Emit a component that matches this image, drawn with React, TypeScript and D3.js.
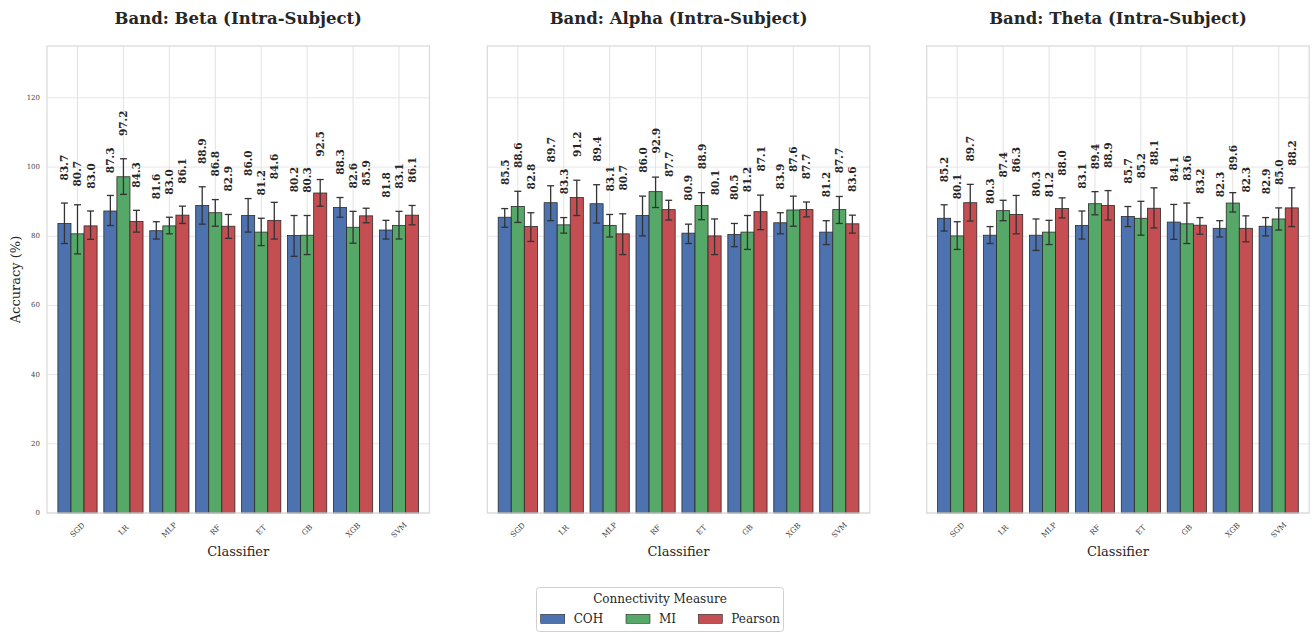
import React from "react";
import * as d3 from "d3";

// classifiers on the x axis, one panel per band
const classifiers = ["SGD", "LR", "MLP", "RF", "ET", "GB", "XGB", "SVM"];
const measures = ["COH", "MI", "Pearson"];
const bands = ["Beta", "Alpha", "Theta"];
const yTicks = [0, 20, 40, 60, 80, 100, 120];

// Beta
const betaCOH = [83.7, 87.3, 81.6, 88.9, 86.0, 80.2, 88.3, 81.8];
const betaMI = [80.7, 97.2, 83.0, 86.8, 81.2, 80.3, 82.6, 83.1];
const betaPearson = [83.0, 84.3, 86.1, 82.9, 84.6, 92.5, 85.9, 86.1];
const betaCOHLo = [77.9, 83.1, 79.2, 83.5, 81.2, 74.2, 85.5, 79.2];
const betaCOHHi = [89.6, 91.8, 84.2, 94.3, 90.9, 86.0, 91.2, 84.6];
const betaMILo = [74.9, 92.1, 80.7, 82.9, 77.3, 74.7, 78.0, 79.2];
const betaMIHi = [89.1, 102.4, 85.5, 90.6, 85.2, 86.0, 87.2, 87.2];
const betaPearsonLo = [79.1, 81.2, 83.7, 79.4, 79.2, 88.7, 83.9, 83.3];
const betaPearsonHi = [87.3, 87.5, 88.7, 86.3, 89.8, 96.4, 88.1, 88.9];

// Alpha
const alphaCOH = [85.5, 89.7, 89.4, 86.0, 80.9, 80.5, 83.9, 81.2];
const alphaMI = [88.6, 83.3, 83.1, 92.9, 88.9, 81.2, 87.6, 87.7];
const alphaPearson = [82.8, 91.2, 80.7, 87.7, 80.1, 87.1, 87.7, 83.6];
const alphaCOHLo = [82.6, 84.5, 83.8, 80.1, 77.9, 77.0, 80.7, 77.6];
const alphaCOHHi = [88.0, 94.6, 94.9, 91.6, 83.5, 83.7, 86.8, 84.5];
const alphaMILo = [84.0, 80.9, 79.8, 88.3, 84.8, 76.2, 82.9, 83.7];
const alphaMIHi = [93.0, 85.4, 86.3, 97.1, 92.6, 86.0, 91.6, 91.5];
const alphaPearsonLo = [78.5, 86.0, 74.7, 84.7, 74.7, 81.9, 85.6, 80.9];
const alphaPearsonHi = [86.8, 96.2, 86.5, 90.4, 85.0, 91.9, 89.9, 86.1];

// Theta
const thetaCOH = [85.2, 80.3, 80.3, 83.1, 85.7, 84.1, 82.3, 82.9];
const thetaMI = [80.1, 87.4, 81.2, 89.4, 85.2, 83.6, 89.6, 85.0];
const thetaPearson = [89.7, 86.3, 88.0, 88.9, 88.1, 83.2, 82.3, 88.2];
const thetaCOHLo = [81.5, 77.9, 75.9, 79.2, 82.8, 79.1, 79.8, 80.1];
const thetaCOHHi = [89.1, 82.8, 85.0, 87.3, 88.6, 89.2, 84.5, 85.4];
const thetaMILo = [76.2, 84.5, 77.6, 86.2, 80.3, 77.9, 87.0, 81.8];
const thetaMIHi = [84.2, 90.4, 84.6, 92.9, 90.1, 89.6, 92.6, 88.2];
const thetaPearsonLo = [84.4, 80.7, 85.3, 84.7, 82.4, 80.6, 78.4, 82.8];
const thetaPearsonHi = [95.0, 91.8, 91.1, 93.2, 94.0, 85.4, 85.9, 94.0];

const bandData = {
  Beta: {
    COH: [betaCOH, betaCOHLo, betaCOHHi],
    MI: [betaMI, betaMILo, betaMIHi],
    Pearson: [betaPearson, betaPearsonLo, betaPearsonHi],
  },
  Alpha: {
    COH: [alphaCOH, alphaCOHLo, alphaCOHHi],
    MI: [alphaMI, alphaMILo, alphaMIHi],
    Pearson: [alphaPearson, alphaPearsonLo, alphaPearsonHi],
  },
  Theta: {
    COH: [thetaCOH, thetaCOHLo, thetaCOHHi],
    MI: [thetaMI, thetaMILo, thetaMIHi],
    Pearson: [thetaPearson, thetaPearsonLo, thetaPearsonHi],
  },
};

const colors = { COH: "#4c72b0", MI: "#55a868", Pearson: "#c44e52" };
const FONT = "'DejaVu Serif', serif";

const panelLefts = [47, 487.3, 926.7];
const panelWidth = 382.5;
const top = 46;
const bottom = 513;

const y = d3.scaleLinear().domain([0, 135]).range([bottom, top]);

const Panel = ({ band, left, showY }) => {
  const x = d3
    .scalePoint()
    .domain(classifiers)
    .range([left, left + panelWidth])
    .padding(0.664);
  const hue = d3.scaleBand().domain(measures).range([-19.6, 19.6]);
  const cx = left + panelWidth / 2;
  const data = bandData[band];

  return (
    <g>
      <text
        x={cx}
        y={24}
        textAnchor="middle"
        fontFamily={FONT}
        fontWeight="bold"
        fontSize={16.5}
        fill="#262626"
      >
        {`Band: ${band} (Intra-Subject)`}
      </text>

      {/* grid */}
      {yTicks.map((t) => (
        <line key={"h" + t} x1={left} x2={left + panelWidth} y1={y(t)} y2={y(t)} stroke="#e6e6e6" strokeWidth={1} />
      ))}
      {classifiers.map((c) => (
        <line key={"v" + c} x1={x(c)} x2={x(c)} y1={top} y2={bottom} stroke="#e2e2e2" strokeWidth={1} />
      ))}

      {/* bars */}
      {measures.map((m) =>
        classifiers.map((c, i) => {
          const v = data[m][0][i];
          return (
            <rect
              key={m + c}
              x={x(c) + hue(m)}
              y={y(v)}
              width={hue.bandwidth()}
              height={y(0) - y(v)}
              fill={colors[m]}
              stroke="#2a2a2a"
              strokeWidth={0.8}
            />
          );
        })
      )}

      {/* error bars */}
      {measures.map((m) =>
        classifiers.map((c, i) => {
          const lo = data[m][1][i];
          const hi = data[m][2][i];
          const bx = x(c) + hue(m) + hue.bandwidth() / 2;
          return (
            <g key={"e" + m + c} stroke="#333" strokeWidth={1.3}>
              <line x1={bx} x2={bx} y1={y(lo)} y2={y(hi)} />
              <line x1={bx - 3.5} x2={bx + 3.5} y1={y(lo)} y2={y(lo)} />
              <line x1={bx - 3.5} x2={bx + 3.5} y1={y(hi)} y2={y(hi)} />
            </g>
          );
        })
      )}

      {/* value labels */}
      {measures.map((m) =>
        classifiers.map((c, i) => {
          const v = data[m][0][i];
          const half = (data[m][2][i] - data[m][1][i]) / 2;
          const bx = x(c) + hue(m) + hue.bandwidth() / 2;
          return (
            <text
              key={"l" + m + c}
              transform={`translate(${bx},${y(v + half + 6.6)}) rotate(-90)`}
              textAnchor="start"
              dominantBaseline="central"
              fontFamily={FONT}
              fontWeight="bold"
              fontSize={10.5}
              fill="#262626"
            >
              {v.toFixed(1)}
            </text>
          );
        })
      )}

      {/* frame */}
      <rect x={left} y={top} width={panelWidth} height={bottom - top} fill="none" stroke="#d9d9d9" strokeWidth={1.2} />

      {/* y ticks */}
      {showY &&
        yTicks.map((t) => (
          <text key={"yt" + t} x={40} y={y(t)} textAnchor="end" dominantBaseline="central" fontFamily={FONT} fontSize={7} fill="#444">
            {t}
          </text>
        ))}
      {showY && (
        <text
          transform={`translate(20,${(top + bottom) / 2}) rotate(-90)`}
          textAnchor="middle"
          fontFamily={FONT}
          fontSize={13}
          fill="#262626"
        >
          Accuracy (%)
        </text>
      )}

      {/* x ticks */}
      {classifiers.map((c) => (
        <text
          key={"xt" + c}
          transform={`translate(${x(c)},530) rotate(-45)`}
          textAnchor="middle"
          dominantBaseline="central"
          fontFamily={FONT}
          fontSize={7.5}
          fill="#444"
        >
          {c}
        </text>
      ))}
      <text x={cx} y={556} textAnchor="middle" fontFamily={FONT} fontSize={13} fill="#262626">
        Classifier
      </text>
    </g>
  );
};

const Legend = () => {
  const lx = d3.scaleOrdinal().domain(measures).range([540.7, 626, 698.3]);
  return (
    <g>
      <rect x={536.5} y={587.5} width={247} height={44} rx={3} fill="#fff" stroke="#d0d0d0" strokeWidth={1} />
      <text x={660} y={603} textAnchor="middle" fontFamily={FONT} fontSize={12} fill="#262626">
        Connectivity Measure
      </text>
      {measures.map((m) => (
        <g key={m}>
          <rect x={lx(m)} y={614.3} width={24} height={9} fill={colors[m]} stroke="#2a2a2a" strokeWidth={0.6} />
          <text x={lx(m) + 33} y={623} fontFamily={FONT} fontSize={12} fill="#262626">
            {m}
          </text>
        </g>
      ))}
    </g>
  );
};

export default function App() {
  return (
    <div style={{ position: "absolute", left: 0, top: 0 }}>
      <svg width={1312} height={633} style={{ display: "block", background: "#fff" }}>
        {bands.map((b, i) => (
          <Panel key={b} band={b} left={panelLefts[i]} showY={i === 0} />
        ))}
        <Legend />
      </svg>
    </div>
  );
}
